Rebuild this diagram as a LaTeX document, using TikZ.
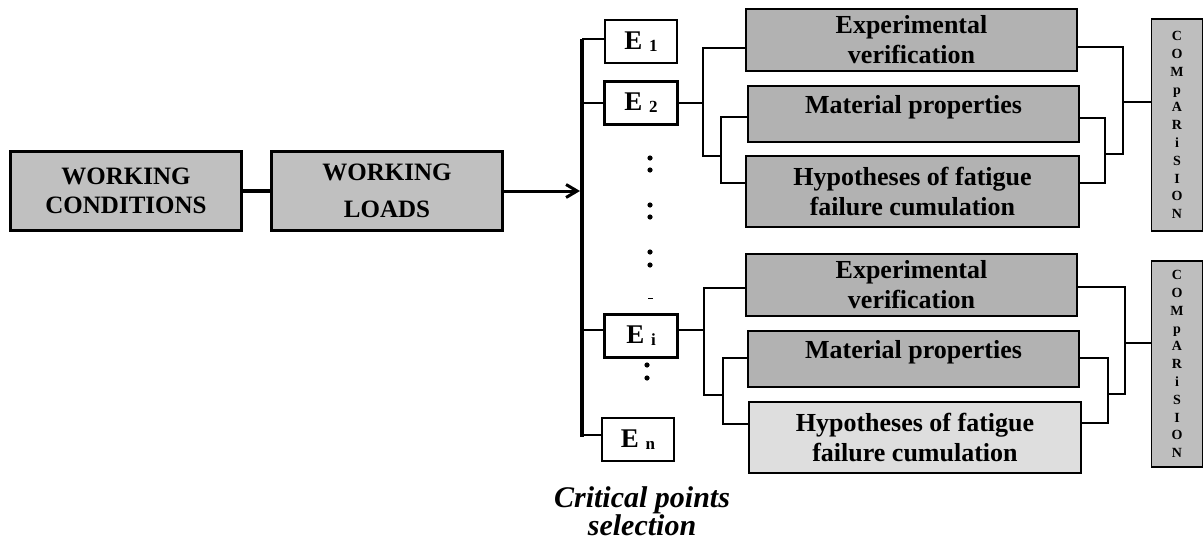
\documentclass[tikz,border=0pt]{standalone}
\usepackage{fontspec}
\setmainfont{Liberation Serif}
\usepackage{tikz}
\usetikzlibrary{arrows.meta}
\usepackage{xcolor}
\definecolor{workgray}{RGB}{192,192,192}
\definecolor{stagegray}{RGB}{178,178,178}
\definecolor{comparegray}{RGB}{190,190,190}
\definecolor{palegray}{RGB}{222,222,222}
\tikzstyle{workbox} = [draw=black, fill=workgray, line width=3pt,
    rectangle, minimum width=231pt, minimum height=79pt, inner sep=0pt,
    align=center, font=\fontsize{25}{29}\selectfont\bfseries]
\tikzstyle{pointbox} = [draw=black, fill=white, line width=1.5pt,
    rectangle, minimum width=72pt, minimum height=43pt, inner sep=0pt,
    font=\fontsize{27}{30}\selectfont\bfseries]
\tikzstyle{markedpoint} = [pointbox, line width=3pt, minimum width=73pt]
\tikzstyle{stagebox} = [draw=black, fill=stagegray, line width=2pt,
    rectangle, minimum width=331pt, inner sep=0pt,
    align=center, font=\fontsize{26}{30}\selectfont\bfseries]
\tikzstyle{comparebox} = [draw=black, fill=comparegray, line width=1.5pt,
    rectangle, minimum width=51pt, inner sep=0pt,
    align=center, font=\fontsize{14}{17.8}\selectfont\bfseries]
\tikzstyle{link} = [draw=black, line width=1.5pt]
\tikzstyle{heavylink} = [draw=black, line width=3.5pt]
\newcommand{\pointname}[1]{E~\raisebox{-2pt}{\fontsize{17}{17}\selectfont #1}}

\begin{document}
\begin{tikzpicture}[x=1pt, y=-1pt]
\useasboundingbox (0,0) rectangle (1204,541);

\node [workbox] (cond) at (126,191) {WORKING\\CONDITIONS};
\node [workbox] (loads) at (387,191) {WORKING\\[8pt]LOADS};

\coordinate (bartop) at (582,39);
\coordinate (barbot) at (582,437);
\coordinate (bararrow) at (580,191);

\draw [heavylink] (cond) -- (loads);
\draw [heavylink, line width=3pt, -{Straight Barb[length=11pt,width=13pt]}] (loads.east) -- (bararrow);
\draw [line width=4pt] (bartop) -- (barbot);

\node [pointbox] (e1) at (641,41.5) {\pointname{1}};
\node [markedpoint] (e2) at (641,103) {\pointname{2}};
\node [markedpoint] (ei) at (641,336) {\pointname{i}};
\node [pointbox] (en) at (638,439.5) {\pointname{n}};

\draw [link] (bartop) -- (bartop -| e1.west);
\draw [link] (e2.west) -- (e2.west -| bartop);
\draw [link] ([yshift=6pt]ei.west) -- ([yshift=6pt]ei.west -| bartop);
\draw [link] ([yshift=2pt]barbot) -- ([yshift=2pt]barbot -| en.west);

\foreach \y in {158,170,205,217,252,265}
    \fill (650,\y) circle (2.6);
\foreach \y in {365,378}
    \fill (647,\y) circle (2.6);
\draw [line width=1pt] (648,298) -- (653,298);

\node [font=\fontsize{30}{28}\selectfont\bfseries\itshape, align=center] (crit) at (642,511) {Critical points\\selection};

% first critical point
\node [stagebox, minimum height=62pt] (exp1) at (911.5,40) {Experimental\\verification};
\node [stagebox, minimum height=56pt, text depth=20pt] (mat1) at (913.5,114) {Material properties};
\node [stagebox, minimum height=71pt, minimum width=333pt] (hyp1) at (912.5,191.5) {Hypotheses of fatigue\\failure cumulation};
\node [comparebox, minimum height=212pt] (cmp1) at (1177,125) {C\\O\\M\\p\\A\\R\\i\\S\\I\\O\\N};

\coordinate (a1) at (703,156);
\coordinate (b1) at (721,156);
\coordinate (c1) at (1123,154);
\coordinate (d1) at (1105,154);

\draw [link] ([yshift=-8pt]exp1.west) -| (a1) -- (b1);
\draw [link] (e2.east) -- (e2.east -| a1);
\draw [link] ([yshift=-3pt]mat1.west) -| (b1) |- ([yshift=8.5pt]hyp1.west);
\draw [link] ([yshift=-7pt]exp1.east) -| (c1) -- (d1);
\draw [link] ([yshift=-4pt]mat1.east) -| (d1) |- ([yshift=8.5pt]hyp1.east);
\draw [link] ([yshift=23pt]cmp1.west) -| (c1);

% i-th critical point
\node [stagebox, minimum height=62pt] (exp2) at (911.5,285) {Experimental\\verification};
\node [stagebox, minimum height=56pt, text depth=20pt] (mat2) at (913.5,359) {Material properties};
\node [stagebox, fill=palegray, minimum height=71pt, minimum width=332pt] (hyp2) at (915,437.5) {Hypotheses of fatigue\\failure cumulation};
\node [comparebox, minimum height=206pt] (cmp2) at (1177,364) {C\\O\\M\\p\\A\\R\\i\\S\\I\\O\\N};

\coordinate (a2) at (704,395);
\coordinate (b2) at (723,395);
\coordinate (c2) at (1125,394);
\coordinate (d2) at (1108,394);

\draw [link] ([yshift=-3pt]exp2.west) -| (a2) -- (b2);
\draw [link] ([yshift=6pt]ei.east) -- ([yshift=6pt]ei.east -| a2);
\draw [link] ([yshift=1pt]mat2.west) -| (b2) |- ([yshift=13.5pt]hyp2.west);
\draw [link] ([yshift=-2pt]exp2.east) -| (c2) -- (d2);
\draw [link] ([yshift=1pt]mat2.east) -| (d2) |- ([yshift=14.5pt]hyp2.east);
\draw [link] ([yshift=21pt]cmp2.west) -| (c2);
\end{tikzpicture}
\end{document}
